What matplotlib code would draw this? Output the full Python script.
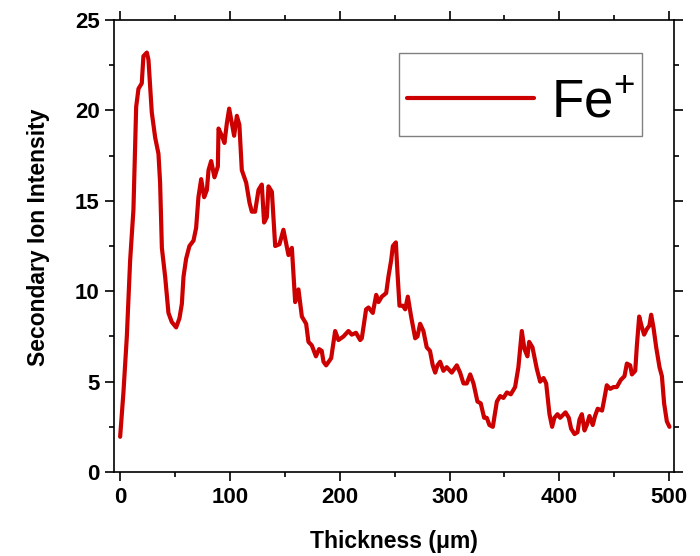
import matplotlib
matplotlib.use("Agg")
import matplotlib.pyplot as plt
from matplotlib.ticker import MultipleLocator

plt.rcParams['font.family'] = ['Liberation Sans', 'DejaVu Sans']
plt.rcParams['mathtext.fontset'] = 'custom'
plt.rcParams['mathtext.rm'] = 'Liberation Sans'

# 厚度 (μm) 与二次离子强度
thickness = [0, 3, 6.1, 9.1, 12.1, 14.6, 16.7, 19.7, 21.2, 24.3, 25.8, 28.8, 31.9,
             34.9, 36.4, 38, 41, 44, 47, 51, 54, 56.2, 57.7, 60.1, 63.1, 66.8,
             69.2, 71.3, 73.8, 76.5, 79, 80.5, 82.9, 85.9, 89, 89.6, 92.6, 95,
             97.2, 99.3, 101.7, 103.8, 106.3, 108.6, 110.8, 114.8, 117.8, 119.9,
             122.9, 126, 129, 131.1, 133.6, 135.1, 138.2, 141.2, 145.1, 148.7,
             153.3, 156.4, 159.4, 162.4, 165.5, 169.4, 171.5, 174.6, 178.3,
             181.2, 183.6, 185.2, 187.6, 192.2, 195.8, 198.8, 203.4, 207.9,
             210.9, 214.8, 218.6, 220.1, 224.0, 226.2, 230.1, 233.2, 235.3,
             238.3, 242.3, 244.3, 246.8, 248.4, 251.1, 252.6, 254.4, 257.5,
             259.6, 262.0, 265, 268.7, 270.8, 273.2, 276.2, 279.2, 282.2, 284.7,
             286.9, 289, 291.4, 294.4, 297.4, 302, 306.6, 309.6, 312.7, 315.7,
             318.8, 321.8, 325.4, 328.4, 331.5, 333.9, 336.3, 339.4, 343.1,
             346.1, 349.1, 352.2, 355.8, 359.7, 362.7, 365.8, 368.2, 370.9,
             372.5, 375.5, 379.5, 382.5, 385.6, 388, 391, 393.4, 395.5, 398.3,
             400.7, 405.6, 408.6, 410.7, 413.8, 416.5, 418.3, 420.5, 422.9, 425,
             427.4, 430.4, 432.5, 434.9, 438.9, 440.8, 443.2, 446.3, 449.3,
             452.3, 456, 459.3, 461.5, 464.5, 466.1, 469.1, 470.6, 472.7, 475.2,
             477.2, 479.6, 482, 483.6, 485.7, 488.2, 491.2, 493.4, 495.4, 497.9,
             500.3]
intensity = [1.95, 4.4, 7.5, 11.7, 14.5, 20.2, 21.2, 21.5, 23.0, 23.2, 22.8, 19.9,
             18.5, 17.6, 16, 12.4, 10.8, 8.8, 8.3, 8.0, 8.5, 9.3, 10.8, 11.8,
             12.5, 12.8, 13.5, 15.2, 16.2, 15.2, 15.6, 16.7, 17.2, 16.3, 16.9,
             19, 18.6, 18.2, 19.3, 20.1, 19.3, 18.6, 19.7, 19.2, 16.7, 16, 14.9,
             14.4, 14.4, 15.6, 15.9, 13.8, 14.1, 15.8, 15.5, 12.5, 12.6, 13.4,
             12.0, 12.4, 9.4, 10.1, 8.6, 8.2, 7.2, 7.0, 6.4, 6.8, 6.7, 6.1, 5.9,
             6.3, 7.8, 7.3, 7.5, 7.8, 7.6, 7.7, 7.3, 7.4, 9.0, 9.1, 8.8, 9.8,
             9.4, 9.7, 9.9, 10.8, 11.7, 12.5, 12.7, 11.0, 9.2, 9.2, 9.0, 9.7,
             8.6, 7.4, 7.5, 8.2, 7.8, 6.9, 6.7, 5.9, 5.5, 5.9, 6.1, 5.6, 5.8,
             5.5, 5.9, 5.5, 4.9, 4.9, 5.4, 4.9, 3.9, 3.8, 3.0, 3.0, 2.6, 2.5,
             3.9, 4.2, 4.1, 4.4, 4.3, 4.7, 5.8, 7.8, 6.8, 6.4, 7.2, 6.9, 5.7,
             5.0, 5.2, 4.9, 3.2, 2.5, 3.0, 3.2, 3.0, 3.3, 3.0, 2.4, 2.1, 2.2,
             2.9, 3.2, 2.3, 2.6, 3.1, 2.6, 3.1, 3.5, 3.4, 4.0, 4.8, 4.6, 4.7,
             4.7, 5.1, 5.3, 6.0, 5.9, 5.4, 5.6, 7.0, 8.6, 8.0, 7.6, 7.9, 8.1,
             8.7, 8.0, 6.9, 5.8, 5.3, 3.8, 2.8, 2.5]

fig = plt.figure(figsize=(7, 5.56), dpi=100)
ax = fig.add_axes([0.163, 0.151, 0.8, 0.813])

ax.plot(thickness, intensity, color='#cc0000', linewidth=3,
        solid_joinstyle='round', solid_capstyle='round', label=r'Fe$^\mathregular{+}$')

ax.set_xlim(-5.5, 504.5)
ax.set_ylim(0, 25)
ax.xaxis.set_major_locator(MultipleLocator(100))
ax.xaxis.set_minor_locator(MultipleLocator(50))
ax.yaxis.set_major_locator(MultipleLocator(5))
ax.yaxis.set_minor_locator(MultipleLocator(2.5))

for s in ax.spines.values():
    s.set_linewidth(1.2)
ax.tick_params(which='both', direction='out', top=True, right=True, width=1.2)
ax.tick_params(which='major', length=6.5, labelsize=16, pad=4)
ax.tick_params(which='minor', length=3.5)
for lab in ax.get_xticklabels() + ax.get_yticklabels():
    lab.set_fontweight('bold')

ax.set_xlabel('Thickness (μm)', fontsize=16.5, fontweight='bold', labelpad=16)
ax.set_ylabel('Secondary Ion Intensity', fontsize=16.5, fontweight='bold', labelpad=18, y=0.52)

# 图例 (空标题只用来留出上边距)
leg = ax.legend(loc='upper right', bbox_to_anchor=(0.943, 0.927), borderaxespad=0,
                fontsize=38, handlelength=2.4, handletextpad=0.32, borderpad=0.15,
                labelspacing=0, title=' ', title_fontsize=13,
                fancybox=False, framealpha=1, edgecolor='#808080')
leg.get_frame().set_linewidth(1.0)

fig.savefig('out.png', dpi=100)
